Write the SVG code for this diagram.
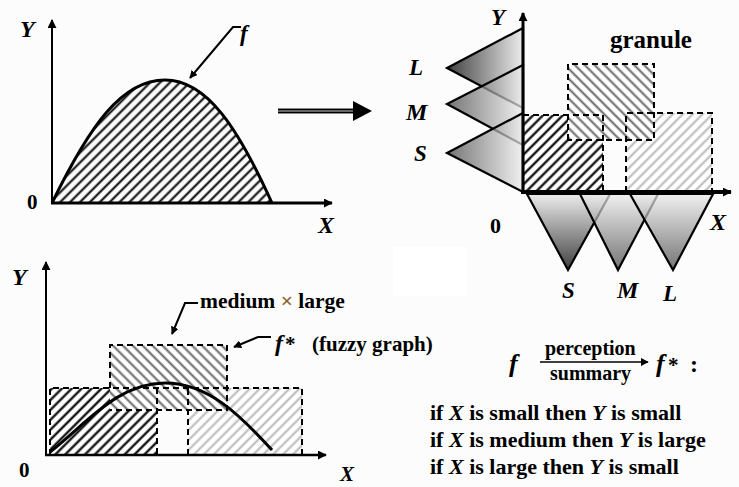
<svg xmlns="http://www.w3.org/2000/svg" width="739" height="487" viewBox="0 0 739 487">
<style>
text{font-family:"Liberation Serif","Times New Roman",serif;fill:#000}
.b{font-weight:bold}
.i{font-style:italic;font-weight:bold}
.axis{stroke:#000;fill:none}
.dash{fill:none;stroke:#000;stroke-width:2;stroke-dasharray:6 4}
.tri{stroke:#000;stroke-width:2.2;stroke-linejoin:miter}
.lead{fill:none;stroke:#000;stroke-width:2}
</style>
<defs>
<marker id="ah" viewBox="0 0 10 10" refX="9" refY="5" markerWidth="9" markerHeight="9" markerUnits="userSpaceOnUse" orient="auto"><path d="M0,0 L10,5 L0,10 z" fill="#000"/></marker>
<marker id="ahs" viewBox="0 0 10 10" refX="9" refY="5" markerWidth="8" markerHeight="8" markerUnits="userSpaceOnUse" orient="auto"><path d="M0,0 L10,5 L0,10 z" fill="#000"/></marker>
<pattern id="hF" width="7" height="7" patternUnits="userSpaceOnUse" patternTransform="rotate(45)"><line x1="3.5" y1="0" x2="3.5" y2="7" stroke="#000" stroke-width="2"/></pattern>
<pattern id="hA" width="7" height="7" patternUnits="userSpaceOnUse" patternTransform="rotate(45)"><rect width="7" height="7" fill="#fff"/><line x1="3.5" y1="0" x2="3.5" y2="7" stroke="#000" stroke-width="2.2"/></pattern>
<pattern id="hB" width="7" height="7" patternUnits="userSpaceOnUse" patternTransform="rotate(-45)"><rect width="7" height="7" fill="#fff"/><line x1="3.5" y1="0" x2="3.5" y2="7" stroke="#666" stroke-width="2"/></pattern>
<pattern id="hC" width="7" height="7" patternUnits="userSpaceOnUse" patternTransform="rotate(45)"><rect width="7" height="7" fill="#fff"/><line x1="3.5" y1="0" x2="3.5" y2="7" stroke="#b8b8b8" stroke-width="2"/></pattern>
<linearGradient id="gY" x1="0" y1="0" x2="1" y2="0"><stop offset="0" stop-color="#404040"/><stop offset="1" stop-color="#ececec"/></linearGradient>
<linearGradient id="gX" x1="0" y1="0" x2="0" y2="1"><stop offset="0" stop-color="#ececec"/><stop offset="1" stop-color="#404040"/></linearGradient>
</defs>
<rect width="739" height="487" fill="#fbfcfb"/>
<rect x="393" y="247" width="73" height="49" fill="#fff"/>

<g id="graph-f">
<path d="M52,203 C90,125 122,80 165,80 C207,80 238,128 272,203 Z" fill="url(#hF)"/>
<path d="M52,203 C90,125 122,80 165,80 C207,80 238,128 272,203" fill="none" stroke="#000" stroke-width="3"/>
<line class="axis" x1="52" y1="204" x2="52" y2="20" stroke-width="2" marker-end="url(#ah)"/>
<line class="axis" x1="51" y1="203" x2="332" y2="203" stroke-width="3" marker-end="url(#ah)"/>
<text class="i" x="20" y="37" font-size="24">Y</text>
<text class="b" x="27" y="209" font-size="21">0</text>
<text class="i" x="318" y="233" font-size="24">X</text>
<polyline class="lead" points="241,27 233,27 190,78" marker-end="url(#ahs)"/>
<text class="i" x="240" y="41" font-size="23">f</text>
</g>

<g id="connectors">
<rect x="278" y="108" width="76" height="6" fill="#8a8a8a"/>
<line x1="278" y1="109.6" x2="354" y2="109.6" stroke="#000" stroke-width="1.3"/>
<line x1="278" y1="112.4" x2="354" y2="112.4" stroke="#000" stroke-width="1.3"/>
<polygon points="353,101 372,111 353,121" fill="#000"/>
</g>

<g id="granule-graph">
<rect x="626" y="113" width="86" height="79" fill="url(#hC)"/>
<rect x="523" y="115" width="80" height="77" fill="url(#hA)"/>
<rect x="568" y="64" width="86" height="76" fill="url(#hB)"/>
<path class="dash" d="M523,115 H603 V192 M626,192 V113 H712 V192 M568,140 V64 H654 V140 H568"/>
<g id="y-sets">
<polygon class="tri" points="523,28 447,68 523,108" fill="url(#gY)"/>
<polygon points="523,65 447,104 523,145" fill="url(#gY)" fill-opacity="0.72"/>
<polygon class="tri" points="523,65 447,104 523,145" fill="none"/>
<polygon points="523,113 447,153 523,192" fill="url(#gY)" fill-opacity="0.72"/>
<polygon class="tri" points="523,113 447,153 523,192" fill="none"/>
</g>
<g id="x-sets">
<polygon class="tri" points="527,194 568,270 610,194" fill="url(#gX)"/>
<polygon points="580,194 618,270 658,194" fill="url(#gX)" fill-opacity="0.72"/>
<polygon class="tri" points="580,194 618,270 658,194" fill="none"/>
<polygon points="630,194 673,270 713,194" fill="url(#gX)" fill-opacity="0.72"/>
<polygon class="tri" points="630,194 673,270 713,194" fill="none"/>
</g>
<line class="axis" x1="523" y1="193" x2="523" y2="13" stroke-width="3" marker-end="url(#ah)"/>
<line class="axis" x1="521" y1="192" x2="731" y2="192" stroke-width="4" marker-end="url(#ah)"/>
<text class="i" x="491" y="25" font-size="23">Y</text>
<text class="b" x="610" y="48" font-size="25">granule</text>
<text class="i" x="409" y="75" font-size="23">L</text>
<text class="i" x="406" y="120" font-size="24">M</text>
<text class="i" x="414" y="161" font-size="23">S</text>
<text class="b" x="490" y="233" font-size="22">0</text>
<text class="i" x="710" y="230" font-size="24">X</text>
<text class="i" x="562" y="298" font-size="23">S</text>
<text class="i" x="617" y="298" font-size="24">M</text>
<text class="i" x="663" y="301" font-size="23">L</text>
</g>

<g id="fuzzy-graph">
<rect x="188" y="388" width="114" height="67" fill="url(#hC)"/>
<rect x="50" y="388" width="107" height="67" fill="url(#hA)"/>
<rect x="110" y="345" width="117" height="65" fill="url(#hB)"/>
<path class="dash" d="M50,455 V388 H302 V455 H188 V388 M157,388 V455 M110,388 V345 H227 V410 H110"/>
<path d="M50,452 C88,422 118,383 165,383 C208,383 240,415 272,450" fill="none" stroke="#000" stroke-width="3"/>
<line class="axis" x1="46" y1="456" x2="46" y2="262" stroke-width="2" marker-end="url(#ah)"/>
<line class="axis" x1="45" y1="455" x2="326" y2="455" stroke-width="2.5" marker-end="url(#ah)"/>
<text class="i" x="12" y="285" font-size="24">Y</text>
<text class="b" x="19" y="477" font-size="21">0</text>
<text class="i" x="340" y="481" font-size="21">X</text>
<polyline class="lead" points="198,303 185,303 172,334" marker-end="url(#ahs)"/>
<text class="b" x="200" y="308" font-size="21.5">medium <tspan fill="#8a5a2a">×</tspan> large</text>
<polyline class="lead" points="271,337 258,337 234,347" marker-end="url(#ahs)"/>
<text class="i" x="275" y="351" font-size="24">f</text>
<text class="b" x="285" y="351" font-size="21">*</text>
<text class="b" x="312" y="351" font-size="21">(fuzzy graph)</text>
</g>

<g id="rules">
<text class="i" x="509" y="372" font-size="26">f</text>
<text class="b" x="545" y="355" font-size="20">perception</text>
<line x1="540" y1="362" x2="648" y2="362" stroke="#000" stroke-width="1.5" marker-end="url(#ahs)"/>
<text class="b" x="550" y="380" font-size="20">summary</text>
<text class="i" x="656" y="372" font-size="26">f</text>
<text class="b" x="668" y="372" font-size="21">*</text>
<text class="b" x="690" y="372" font-size="24">:</text>
<text class="b" x="430" y="420" font-size="22">if <tspan class="i">X</tspan> is small then <tspan class="i">Y</tspan> is small</text>
<text class="b" x="430" y="447" font-size="22">if <tspan class="i">X</tspan> is medium then <tspan class="i">Y</tspan> is large</text>
<text class="b" x="430" y="474" font-size="22">if <tspan class="i">X</tspan> is large then <tspan class="i">Y</tspan> is small</text>
</g>
</svg>
